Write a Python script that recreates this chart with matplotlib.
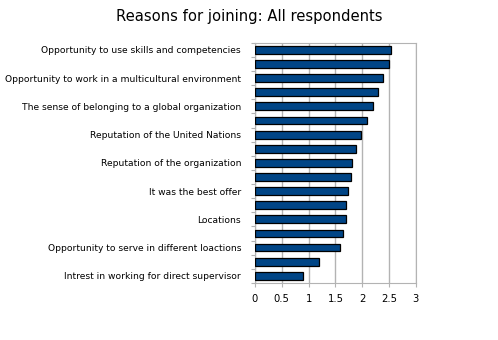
import numpy as np
import matplotlib
matplotlib.use("Agg")
import matplotlib.pyplot as plt

# Reasons for joining, listed top to bottom (only every other label is printed)
reasons = [
    "Opportunity to use skills and competencies", "",
    "Opportunity to work in a multicultural environment", "",
    "The sense of belonging to a global organization", "",
    "Reputation of the United Nations", "",
    "Reputation of the organization", "",
    "It was the best offer", "",
    "Locations", "",
    "Opportunity to serve in different loactions", "",
    "Intrest in working for direct supervisor",
]
scores = [2.54, 2.50, 2.39, 2.30, 2.20, 2.09, 1.98, 1.89, 1.81,
          1.79, 1.74, 1.70, 1.70, 1.64, 1.59, 1.20, 0.90]
xticks = [0, 0.5, 1, 1.5, 2, 2.5, 3]

plt.rcParams['font.family'] = ['DejaVu Sans']

fig = plt.figure(figsize=(4.98, 3.4), dpi=100)
ax = fig.add_axes([0.512, 0.168, 0.323, 0.706])

n = len(scores)
pos = np.arange(n)[::-1]
ax.barh(pos, scores, height=0.55, color='#004586', edgecolor='black',
        linewidth=0.9, zorder=3)

ax.set_xlim(0, 3)
ax.set_ylim(-0.5, n - 0.5)
ax.set_xticks(xticks)
ax.set_xticklabels([f"{t:g}" for t in xticks], fontsize=7.2)
ax.xaxis.grid(True, color='#b3b3b3', linewidth=1, zorder=0)

# ticks on category boundaries, labels on category centres
ax.set_yticks(np.arange(-0.5, n, 1.0))
ax.set_yticklabels([])
ax.set_yticks(pos, minor=True)
ax.set_yticklabels(reasons, minor=True, fontsize=6.6)
ax.tick_params(axis='y', which='minor', length=0, pad=10)
ax.tick_params(axis='y', which='major', length=3, color='#b3b3b3')
ax.tick_params(axis='x', length=3, color='#b3b3b3', pad=5)

for s in ax.spines.values():
    s.set_color('#b3b3b3')

fig.text(0.5, 0.952, "Reasons for joining: All respondents", ha='center',
         va='center', fontsize=10.6)

fig.savefig("out.png", dpi=100)
